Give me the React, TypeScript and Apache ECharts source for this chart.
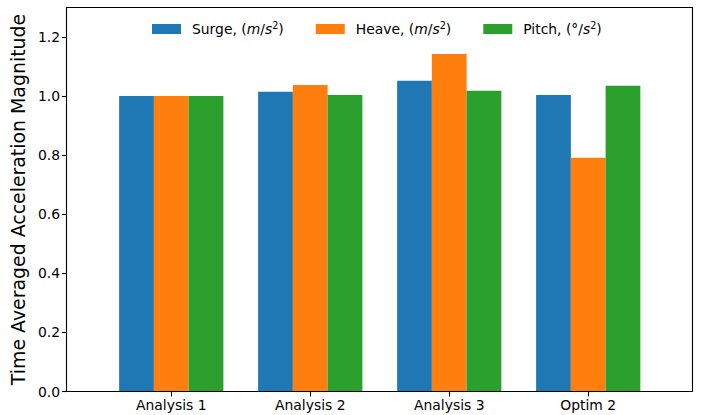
import React, { useEffect, useRef } from "react";
import * as echarts from "echarts";

// Normalised, time-averaged acceleration magnitudes per run
const categories = ["Analysis 1", "Analysis 2", "Analysis 3", "Optim 2"];
const surge = [1.0, 1.015, 1.052, 1.004];
const heave = [1.0, 1.038, 1.143, 0.791];
const pitch = [1.0, 1.004, 1.018, 1.035];
const yTicks = [0, 0.2, 0.4, 0.6, 0.8, 1.0, 1.2];

const seriesNames = ["Surge", "Heave", "Pitch"];
// unit labels in rich-text markup: italic symbols and a superscript exponent
const seriesUnits = ["({it|m}/{it|s}{sup|2})", "({it|m}/{it|s}{sup|2})", "(°/{it|s}{sup|2})"];
const seriesColors = ["#1f77b4", "#ff7f0e", "#2ca02c"];

const FONT = "DejaVu Sans";

// plot frame, in pixels
const FRAME = { x: 66.5, y: 7.5, w: 626, h: 384 };
const EDGE_MARGIN_BANDS = 0.25; // extra room beyond half a band on each side

export default function App() {
  const ref = useRef<HTMLDivElement>(null);

  useEffect(() => {
    document.body.style.margin = "0";
    if (!ref.current) return;
    const chart = echarts.init(ref.current, null, { renderer: "svg" });

    const n = categories.length;
    const band = FRAME.w / (n + 2 * EDGE_MARGIN_BANDS);
    const gridLeft = FRAME.x + EDGE_MARGIN_BANDS * band;
    const gridRight = 702 - (FRAME.x + FRAME.w - EDGE_MARGIN_BANDS * band);

    const labelFor = (name: string) => {
      const i = seriesNames.indexOf(name);
      return `${name}, ${seriesUnits[i]}`;
    };

    const dataSets = [surge, heave, pitch];

    chart.setOption({
      animation: false,
      backgroundColor: "#ffffff",
      textStyle: { fontFamily: FONT },
      grid: {
        left: gridLeft,
        right: gridRight,
        top: FRAME.y,
        bottom: 415 - (FRAME.y + FRAME.h),
        containLabel: false,
      },
      legend: {
        show: true,
        left: 152,
        top: 20,
        padding: 0,
        itemWidth: 29,
        itemHeight: 10,
        itemGap: 32,
        icon: "rect",
        data: seriesNames,
        formatter: labelFor,
        textStyle: {
          fontFamily: FONT,
          fontSize: 13.9,
          color: "#000",
          padding: [0, 0, 0, 6],
          lineHeight: 18,
          rich: {
            it: { fontFamily: FONT, fontStyle: "italic", fontSize: 13.9, color: "#000" },
            sup: {
              fontFamily: FONT,
              fontSize: 9.7,
              color: "#000",
              verticalAlign: "top",
              lineHeight: 10,
            },
          },
        },
      },
      xAxis: {
        type: "category",
        data: categories,
        axisLine: { show: false },
        axisTick: {
          show: true,
          alignWithLabel: true,
          length: 5,
          lineStyle: { color: "#000", width: 1.1 },
        },
        axisLabel: {
          fontFamily: FONT,
          fontSize: 13.9,
          color: "#000",
          margin: 6,
        },
        splitLine: { show: false },
      },
      yAxis: {
        type: "value",
        min: 0,
        max: 1.3,
        interval: 0.2,
        offset: gridLeft - FRAME.x,
        name: "Time Averaged Acceleration Magnitude",
        nameLocation: "middle",
        nameRotate: 90,
        nameGap: 29,
        nameTextStyle: { fontFamily: FONT, fontSize: 18.9, color: "#000" },
        axisLine: { show: false },
        axisTick: {
          show: true,
          length: 5,
          customValues: yTicks,
          lineStyle: { color: "#000", width: 1.1 },
        },
        axisLabel: {
          fontFamily: FONT,
          fontSize: 13.9,
          color: "#000",
          margin: 7,
          customValues: yTicks,
          formatter: (v: number) => v.toFixed(1),
        },
        splitLine: { show: false },
      },
      series: seriesNames.map((name, i) => ({
        name,
        type: "bar",
        data: dataSets[i],
        barGap: "0%",
        barCategoryGap: "25%",
        itemStyle: { color: seriesColors[i] },
      })),
      graphic: [
        {
          type: "rect",
          z: 100,
          silent: true,
          shape: { x: FRAME.x, y: FRAME.y, width: FRAME.w, height: FRAME.h },
          style: { fill: "none", stroke: "#000", lineWidth: 1.1 },
        },
      ],
    });

    return () => chart.dispose();
  }, []);

  return <div ref={ref} style={{ width: 702, height: 415 }} />;
}
